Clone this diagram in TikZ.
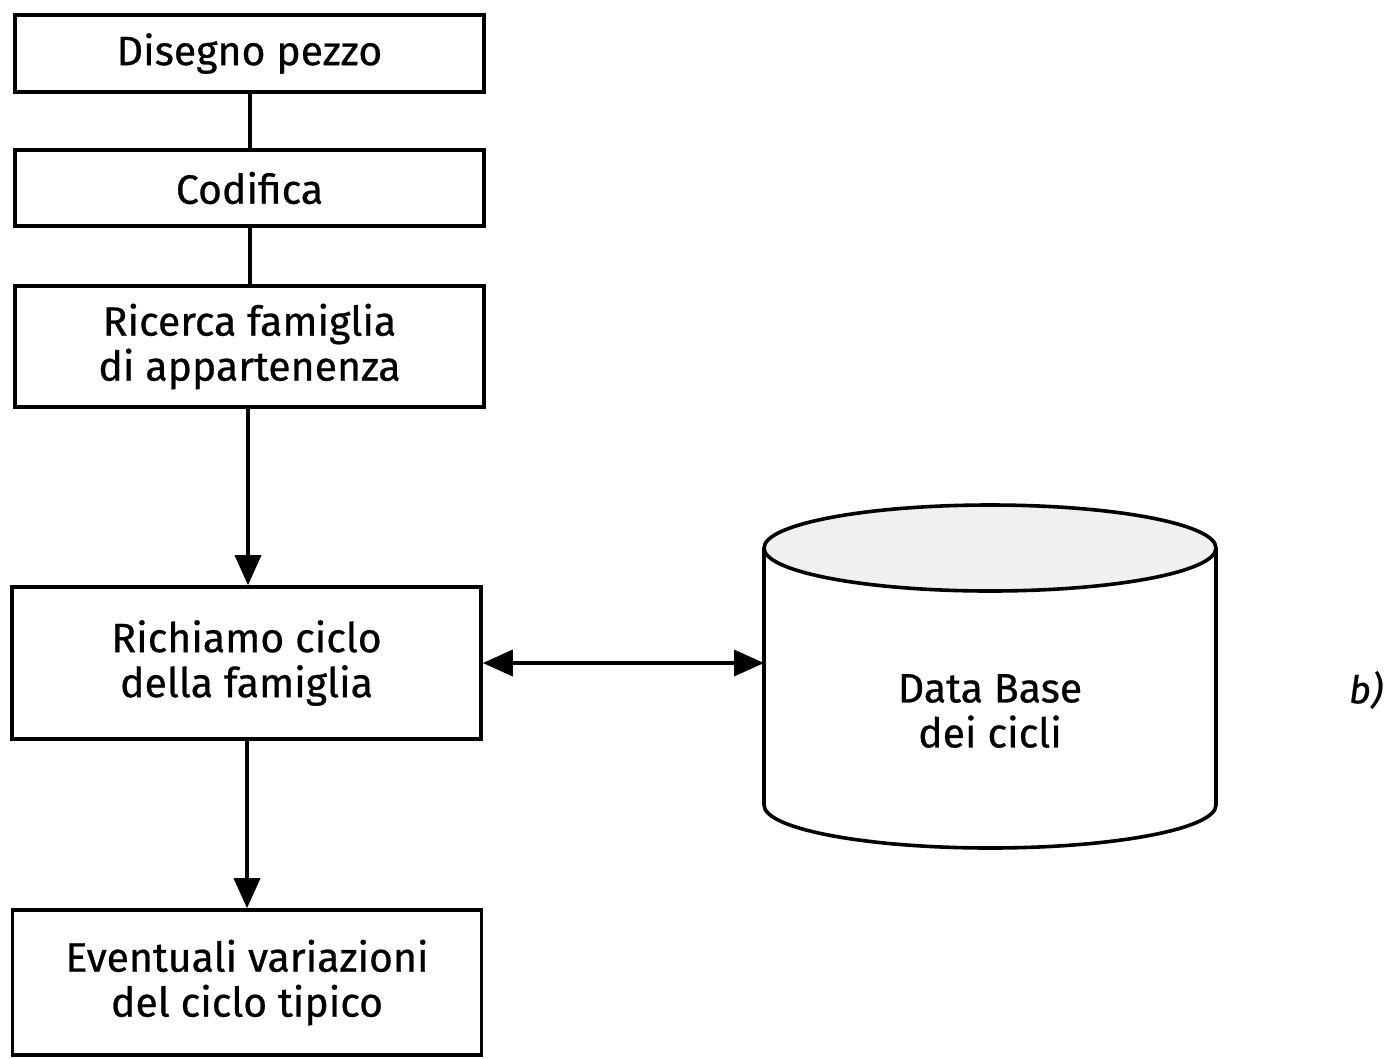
\documentclass[tikz,border=0pt]{standalone}
\usepackage{fontspec}
\setmainfont{Fira Sans}[FakeBold=0.6]
\usetikzlibrary{arrows.meta}
\begin{document}
\begin{tikzpicture}[x=1pt,y=1pt,
  box/.style={draw,line width=3.6pt,minimum width=469pt,align=center,inner sep=0pt,
    font=\fontsize{41}{45}\selectfont},
  conn/.style={line width=3.6pt},
  arr/.style={line width=3.6pt,-{Triangle[length=30pt,width=26pt]}},
  dblarr/.style={line width=3.6pt,{Triangle[length=30pt,width=26pt]}-{Triangle[length=30pt,width=26pt]}}]
\useasboundingbox (0,0) rectangle (1394,-1058);
\node[box,minimum height=77pt] (b1) at (249.5,-53.5) {Disegno pezzo};
\node[box,minimum height=76pt] (b2) at (249.5,-188) {Codifica};
\node[box,minimum height=121pt] (b3) at (249.5,-346.5) {Ricerca famiglia\\di appartenenza};
\node[box,minimum height=152pt] (b4) at (246.5,-663) {Richiamo ciclo\\della famiglia};
\node[box,minimum height=145pt] (b5) at (247,-982.5) {Eventuali variazioni\\del ciclo tipico};
% cylinder
\fill[gray!12] (990,-548) ellipse [x radius=226, y radius=43];
\draw[line width=3.6pt] (764,-548) -- (764,-805) arc[start angle=180,end angle=360,x radius=226,y radius=43] -- (1216,-548);
\draw[line width=3.6pt] (990,-548) ellipse [x radius=226, y radius=43];
\node[minimum width=452pt,minimum height=343pt,inner sep=0pt,align=center,
  font=\fontsize{41}{45}\selectfont] (db) at (990,-711) {Data Base\\dei cicli};
\node[font=\fontsize{38}{40}\selectfont\itshape] (lbl) at (1366,-690) {b)};
\draw[conn] (b1.south -| 250,0) -- (b2.north -| 250,0);
\draw[conn] (b2.south -| 250,0) -- (b3.north -| 250,0);
\draw[arr] (b3.south -| 248,0) -- (b4.north -| 248,0);
\draw[arr] (b4.south -| 247,0) -- (b5.north -| 247,0);
\draw[dblarr] (b4.east |- 0,-663) -- (764,-663);
\end{tikzpicture}
\end{document}
